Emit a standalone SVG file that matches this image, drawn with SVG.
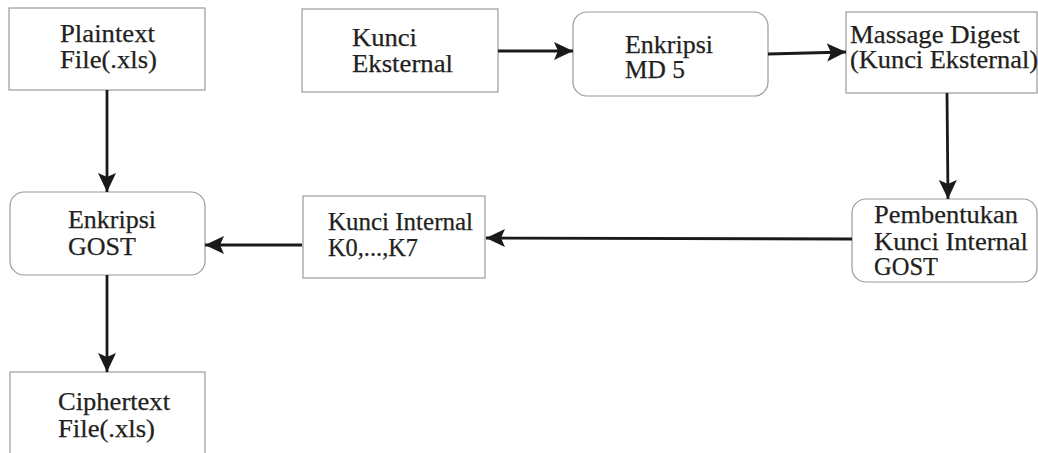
<svg xmlns="http://www.w3.org/2000/svg" width="1038" height="453" viewBox="0 0 1038 453">
<style>
.box{fill:#fff;stroke:#9a9a9a;stroke-width:1.2}
text{font-family:'Liberation Serif','Times New Roman',serif;font-size:25px;fill:#231f20;stroke:#231f20;stroke-width:0.25}
.c{stroke:#1a1a1a;stroke-width:2.8;fill:none;marker-end:url(#ah)}
</style>
<defs>
<marker id="ah" markerUnits="userSpaceOnUse" markerWidth="22" markerHeight="20" refX="19" refY="9" orient="auto">
<path d="M0,0 L19,9 L0,18 L4,9 Z" fill="#1a1a1a"/>
</marker>
</defs>
<rect width="1038" height="453" fill="#fff"/>
<g id="plaintext">
<rect class="box" x="9" y="8" width="196" height="82"/>
<text x="60" y="42" textLength="95" lengthAdjust="spacingAndGlyphs">Plaintext</text>
<text x="60" y="68" textLength="97" lengthAdjust="spacingAndGlyphs">File(.xls)</text>
</g>
<g id="kunci-eksternal">
<rect class="box" x="302" y="9" width="196" height="83"/>
<text x="352" y="46" textLength="65" lengthAdjust="spacingAndGlyphs">Kunci</text>
<text x="352" y="72" textLength="101" lengthAdjust="spacingAndGlyphs">Eksternal</text>
</g>
<g id="enkripsi-md5">
<rect class="box" x="573" y="12" width="195" height="84" rx="14"/>
<text x="625" y="53" textLength="88" lengthAdjust="spacingAndGlyphs">Enkripsi</text>
<text x="625" y="78" textLength="60" lengthAdjust="spacingAndGlyphs">MD 5</text>
</g>
<g id="massage-digest">
<rect class="box" x="846" y="12" width="191" height="81"/>
<text x="850" y="43" textLength="170" lengthAdjust="spacingAndGlyphs">Massage Digest</text>
<text x="850" y="68" textLength="188" lengthAdjust="spacingAndGlyphs">(Kunci Eksternal)</text>
</g>
<g id="pembentukan">
<rect class="box" x="852" y="199" width="185" height="83" rx="14"/>
<text x="874" y="223" textLength="144" lengthAdjust="spacingAndGlyphs">Pembentukan</text>
<text x="874" y="250" textLength="154" lengthAdjust="spacingAndGlyphs">Kunci Internal</text>
<text x="874" y="275" textLength="64" lengthAdjust="spacingAndGlyphs">GOST</text>
</g>
<g id="kunci-internal">
<rect class="box" x="303" y="196" width="182" height="82"/>
<text x="328" y="230" textLength="145" lengthAdjust="spacingAndGlyphs">Kunci Internal</text>
<text x="328" y="256" textLength="90" lengthAdjust="spacingAndGlyphs">K0,...,K7</text>
</g>
<g id="enkripsi-gost">
<rect class="box" x="10" y="192" width="195" height="83" rx="14"/>
<text x="68" y="228" textLength="88" lengthAdjust="spacingAndGlyphs">Enkripsi</text>
<text x="68" y="255" textLength="68" lengthAdjust="spacingAndGlyphs">GOST</text>
</g>
<g id="ciphertext">
<rect class="box" x="10" y="372" width="195" height="90"/>
<text x="58" y="410" textLength="112" lengthAdjust="spacingAndGlyphs">Ciphertext</text>
<text x="58" y="437" textLength="97" lengthAdjust="spacingAndGlyphs">File(.xls)</text>
</g>
<g id="connectors">
<line class="c" x1="107" y1="90" x2="107" y2="192"/>
<line class="c" x1="498" y1="51" x2="573" y2="51"/>
<line class="c" x1="768" y1="54" x2="846" y2="52"/>
<line class="c" x1="947" y1="93" x2="948" y2="199"/>
<line class="c" x1="852" y1="239" x2="486" y2="238"/>
<line class="c" x1="302" y1="245" x2="205" y2="245"/>
<line class="c" x1="107" y1="275" x2="107" y2="372"/>
</g>
</svg>
